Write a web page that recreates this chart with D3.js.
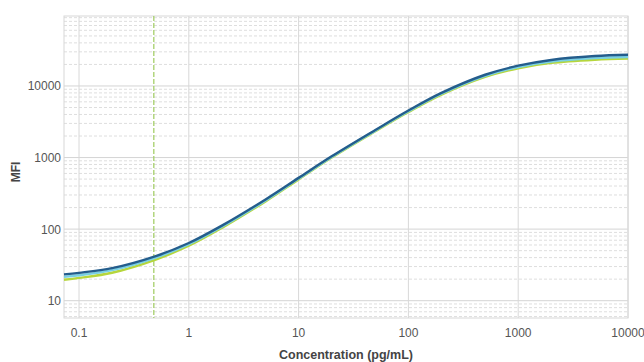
<!DOCTYPE html>
<html><head><meta charset="utf-8">
<script src="https://cdn.jsdelivr.net/npm/d3@7"></script>
<style>body{margin:0;background:#fff}svg{display:block}</style>
</head><body><svg id="c" width="644" height="362"></svg>
<script>
// Data
const concentrations = [0.073, 0.1, 0.2, 0.5, 1, 2, 5, 10, 20, 50, 100, 200, 500, 1000, 2000, 5000, 10000];
const seriesBlue  = [23.3, 24.5, 28.5, 42, 64, 112, 260, 520, 1040, 2430, 4535, 8000, 14350, 19200, 23100, 26200, 27300];
const seriesCyan  = [21.5, 22.7, 26.7, 40, 61.5, 108, 252, 508, 1020, 2380, 4430, 7780, 13850, 18400, 21900, 24500, 25400];
const seriesGreen = [19.6, 20.8, 24.6, 37.6, 58.5, 104, 244, 495, 1000, 2330, 4320, 7570, 13400, 17700, 21000, 23300, 24200];
const xTicks = [0.1, 1, 10, 100, 1000, 10000];
const xTickLabels = ["0.1", "1", "10", "100", "1000", "10000"];
const yTicks = [10, 100, 1000, 10000];
const yTickLabels = ["10", "100", "1000", "10000"];
const lodLine = 0.48;
const xTitle = "Concentration (pg/mL)";
const yTitle = "MFI";

const svg = d3.select("#c");
const L = 64, R = 628, T = 16, B = 318;
const x = d3.scaleLog().domain([0.073, 10000]).range([L, R]);
const y = d3.scaleLog().domain([5.73, 95000]).range([B, T]);

// minor horizontal grid
const minorY = [];
for (let e = 0; e <= 4; e++) for (let k = 2; k <= 9; k++) {
  const v = k * Math.pow(10, e);
  if (v > 5.73 && v < 95000) minorY.push(v);
}
svg.append("g").selectAll("line").data(minorY).join("line")
  .attr("x1", L).attr("x2", R).attr("y1", d => y(d)).attr("y2", d => y(d))
  .attr("stroke", "#dedede").attr("stroke-width", 1).attr("stroke-dasharray", "3,2");
// major grid
svg.append("g").selectAll("line").data(yTicks).join("line")
  .attr("x1", L).attr("x2", R).attr("y1", d => y(d)).attr("y2", d => y(d))
  .attr("stroke", "#d4d4d4").attr("stroke-width", 1);
svg.append("g").selectAll("line").data(xTicks).join("line")
  .attr("x1", d => x(d)).attr("x2", d => x(d)).attr("y1", T).attr("y2", B)
  .attr("stroke", "#d8d8d8").attr("stroke-width", 1);
// frame
svg.append("rect").attr("x", L).attr("y", T).attr("width", R - L).attr("height", B - T)
  .attr("fill", "none").attr("stroke", "#d8d8d8");

// LOD line
svg.append("line").attr("x1", x(lodLine)).attr("x2", x(lodLine)).attr("y1", T).attr("y2", B)
  .attr("stroke", "#a6cf6a").attr("stroke-width", 1.3).attr("stroke-dasharray", "5,2");

// curves
const line = d3.line().x(d => x(d[0])).y(d => y(d[1])).curve(d3.curveCatmullRom.alpha(0.5));
[[seriesGreen, "#b6d63c"], [seriesCyan, "#79d0e3"], [seriesBlue, "#245d8c"]].forEach(([s, c]) => {
  svg.append("path").datum(concentrations.map((cx, i) => [cx, s[i]]))
    .attr("d", line).attr("fill", "none").attr("stroke", c).attr("stroke-width", 2.4);
});

// axes labels
const font = "'Liberation Sans', Arial, sans-serif";
svg.append("g").selectAll("text").data(yTicks).join("text")
  .attr("x", L - 3).attr("y", d => y(d) + 4.5).attr("text-anchor", "end")
  .attr("font-family", font).attr("font-size", 12).attr("fill", "#555")
  .text((d, i) => yTickLabels[i]);
svg.append("g").selectAll("text").data(xTicks).join("text")
  .attr("x", d => x(d)).attr("y", 337).attr("text-anchor", "middle")
  .attr("font-family", font).attr("font-size", 12).attr("fill", "#555")
  .text((d, i) => xTickLabels[i]);
svg.append("text").attr("x", (L + R) / 2).attr("y", 359).attr("text-anchor", "middle")
  .attr("font-family", font).attr("font-size", 12.5).attr("font-weight", "bold").attr("fill", "#444")
  .text(xTitle);
svg.append("text").attr("transform", `translate(20,${(T + B) / 2 + 5}) rotate(-90)`).attr("text-anchor", "middle")
  .attr("font-family", font).attr("font-size", 12).attr("font-weight", "bold").attr("fill", "#444")
  .text(yTitle);
</script></body></html>
